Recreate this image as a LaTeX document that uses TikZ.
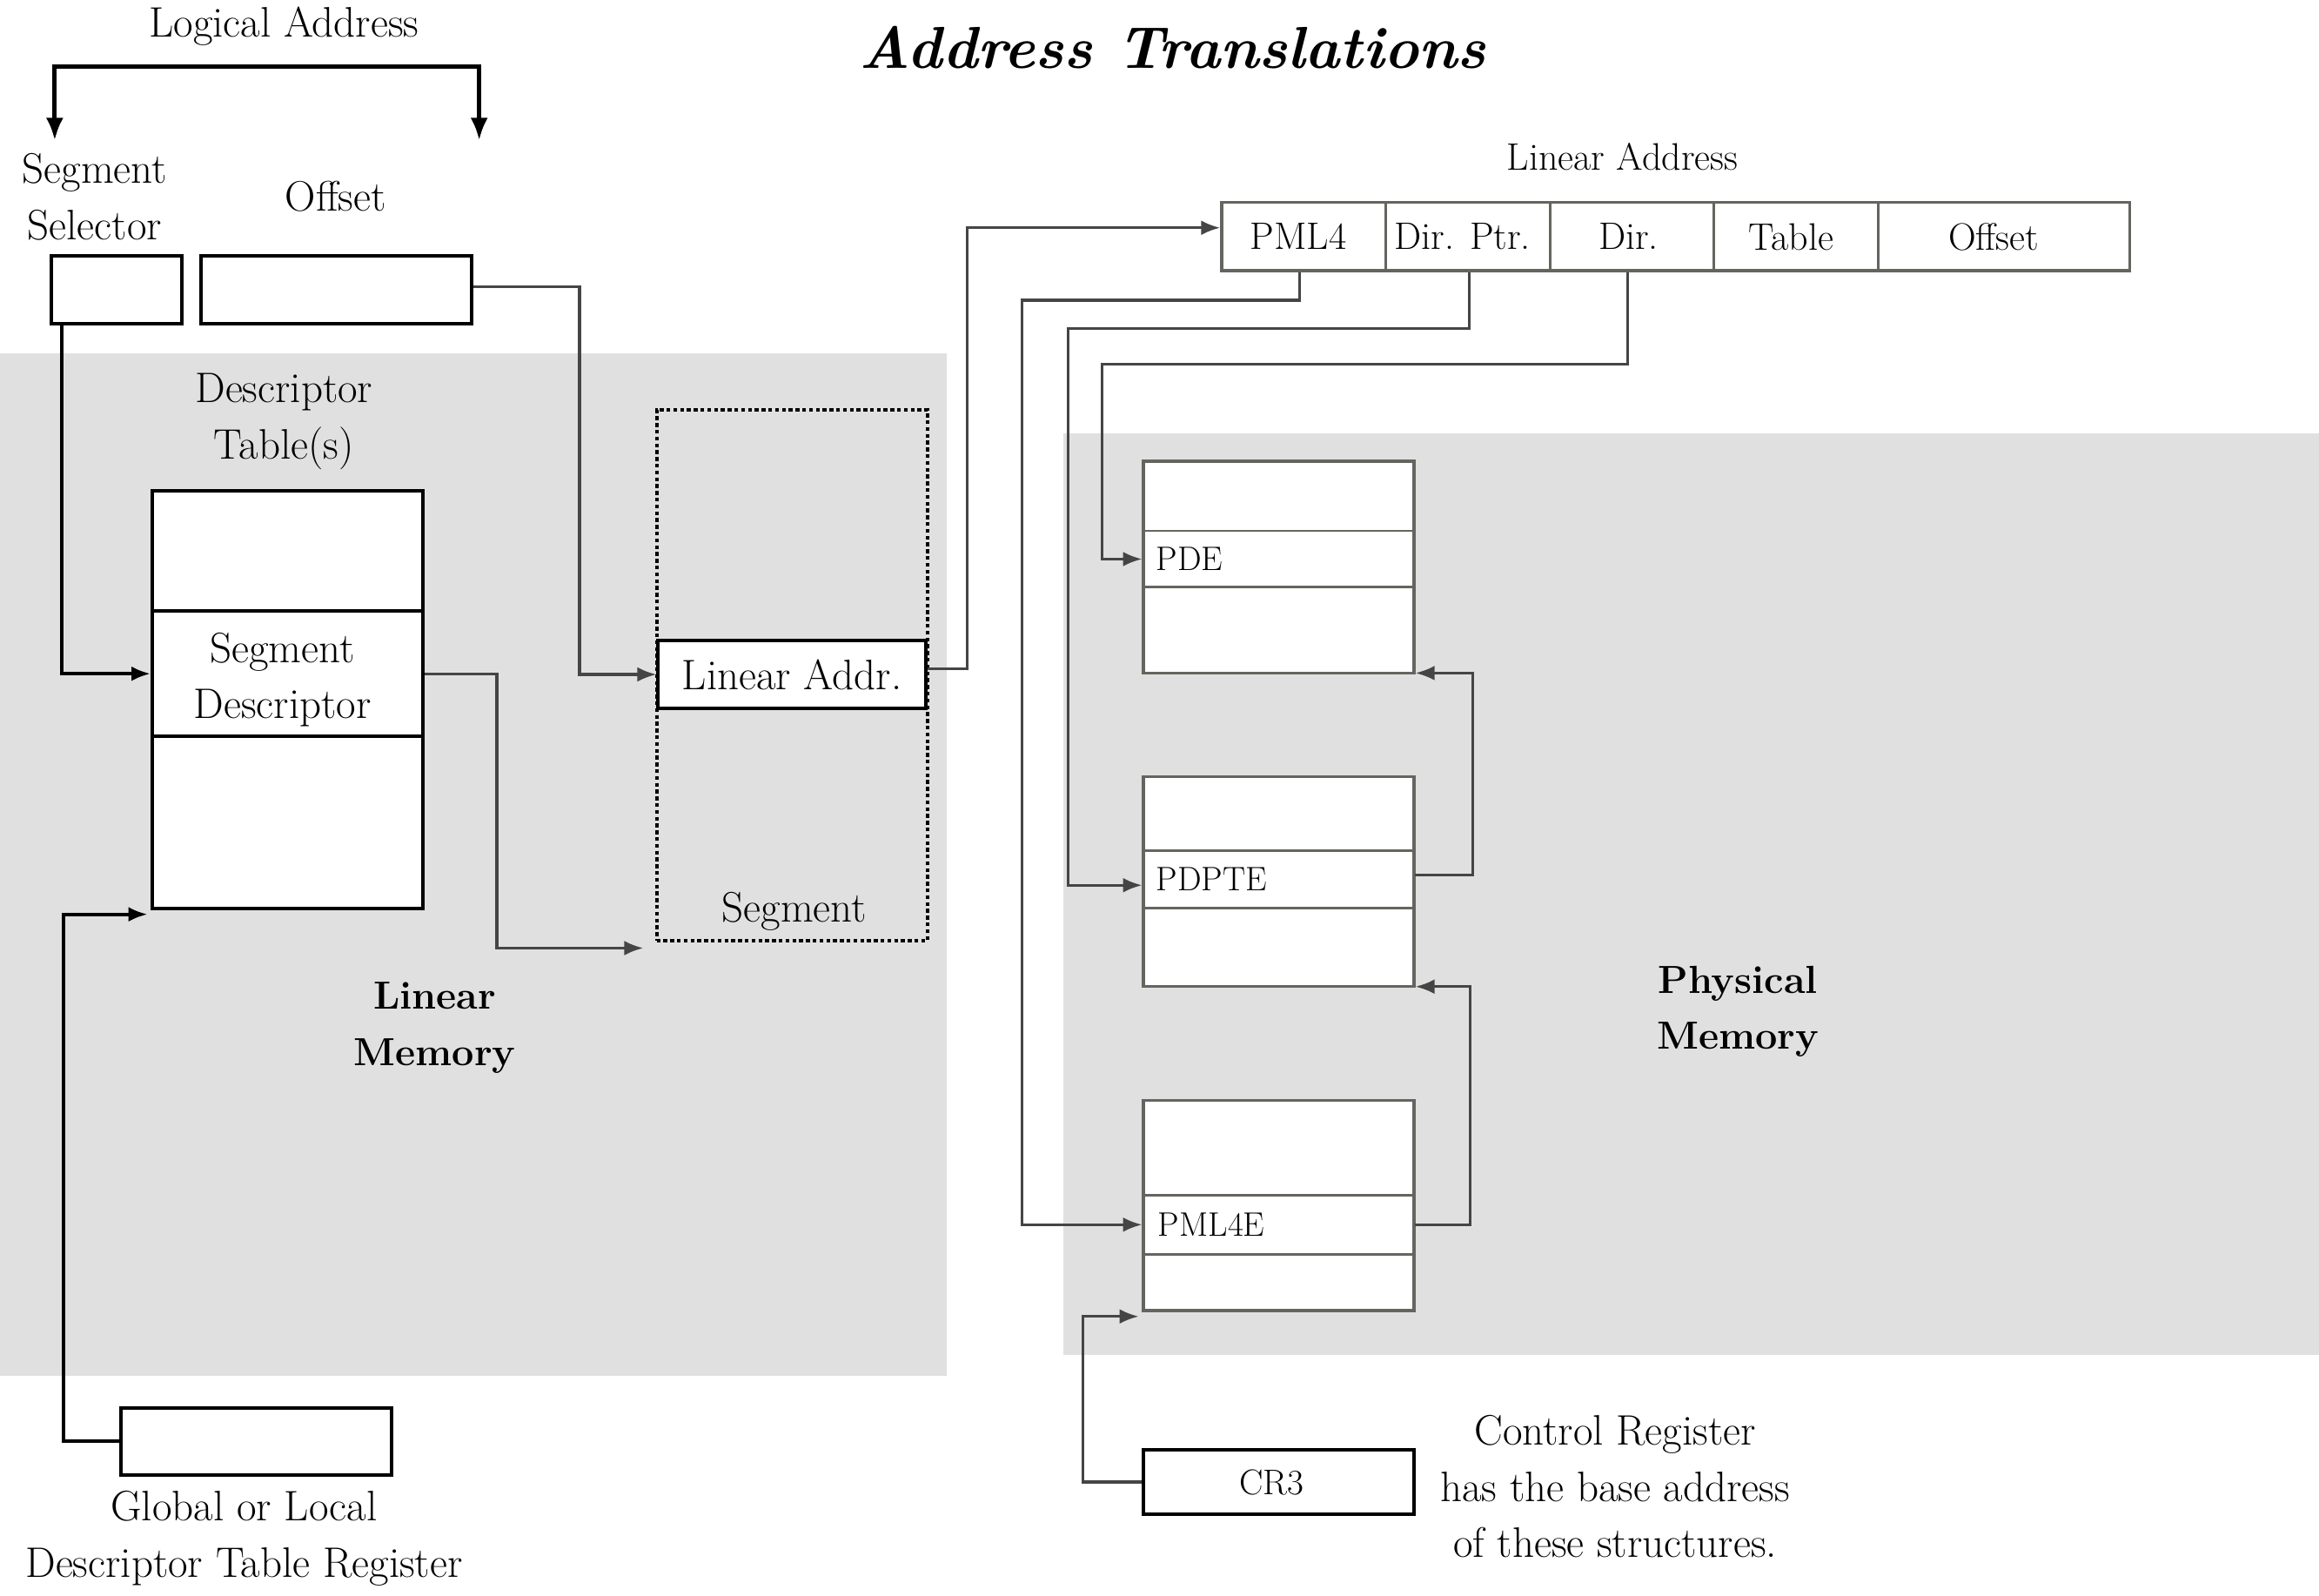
\documentclass[tikz,border=0pt]{standalone}
\usetikzlibrary{arrows.meta,fit,calc}
\definecolor{bggray}{HTML}{E0E0E0}
\definecolor{conngray}{HTML}{454545}
\definecolor{boxgray}{HTML}{65645F}
\begin{document}
\begin{tikzpicture}[x=0.85pt,y=-0.85pt,
  lbl/.style={font=\fontsize{24.5}{32.3}\selectfont, align=center, inner sep=0pt},
  smlbl/.style={font=\fontsize{22}{26}\selectfont, inner sep=0pt},
  rowlbl/.style={font=\fontsize{19.5}{23}\selectfont, inner sep=0pt, anchor=west},
  boldlbl/.style={font=\fontsize{22.5}{32.3}\selectfont\bfseries, align=center, inner sep=0pt},
  blkbox/.style={draw=black, line width=2pt, fill=white, inner sep=0pt},
  blkrow/.style={draw=black, line width=2pt, inner sep=0pt},
  graybox/.style={draw=boxgray, line width=1.8pt, fill=white, inner sep=0pt},
  grayrow/.style={draw=boxgray, line width=1.3pt, inner sep=0pt},
  cellbox/.style={draw=boxgray, line width=1.6pt, fill=white, inner sep=0pt},
  conn/.style={draw=conngray, line width=1.6pt, -{Latex[length=11pt,width=8.5pt]}},
  blkconn/.style={draw=black, line width=2pt, -{Latex[length=11pt,width=8.5pt]}},
  brk/.style={draw=black, line width=2.5pt, {Latex[length=13pt,width=10pt]}-{Latex[length=13pt,width=10pt]}},
]
\useasboundingbox (0,0) rectangle (1568,1079);
% background regions
\fill[bggray] (0,239) rectangle (640,930);
\fill[bggray] (719,293) rectangle (1568,916);

% title
\node[font=\fontsize{34}{38}\selectfont\bfseries\itshape, inner sep=0pt] (title) at (793,32) {Address Translations};

% logical address
\node[lbl] (logaddr) at (192,18) {Logical Address};
\coordinate (brL) at (37,95);
\coordinate (brR) at (324,95);
\draw[brk] (brL) |- ($(brR)+(0,-50)$) -- (brR);
\node[lbl] (segsel) at (64,133) {Segment\\Selector};
\node[lbl] (offlbl) at (227,133) {Offset};
\node[blkbox, fit={(35,173) (123,219)}] (ssbox) {};
\node[blkbox, fit={(136,173) (319,219)}] (offbox) {};

% descriptor table
\node[lbl] (dtlbl) at (192,285) {Descriptor\\Table(s)};
\node[blkbox, fit={(103,332) (286,614)}] (dt) {};
\node[blkrow, fit={(103,413) (286,498)}] (segdesc) {};
\node[lbl] (segdesctxt) at ([xshift=-3pt,yshift=-3.5pt]segdesc.center) {Segment\\Descriptor};

% segment (dotted) and linear addr
\node[draw=black, line width=2pt, dash pattern=on 2.2pt off 1.7pt, inner sep=0pt, fit={(444,277) (627,636)}] (segbox) {};
\node[lbl] (seglbl) at (537,616) {Segment};
\node[blkbox, fit={(445,433) (626,479)}] (linaddr) {};
\node[lbl] (linaddrtxt) at (linaddr.center) {Linear Addr.};
\coordinate (segend) at (435,641);

% labels
\node[boldlbl] (linlbl) at (294,695) {Linear\\Memory};
\node[boldlbl] (physlbl) at (1175,684) {Physical\\Memory};

% GDTR
\node[blkbox, fit={(82,952) (265,997)}] (gdtr) {};
\node[lbl] (gdtrlbl) at (165,1040) {Global or Local\\Descriptor Table Register};

% linear address bar
\node[smlbl] (linaddrlbl) at (1097,106) {Linear Address};
\node[cellbox, fit={(826,137) (937,183)}] (pml4) {};
\node[cellbox, fit={(937,137) (1048,183)}] (dirptr) {};
\node[cellbox, fit={(1048,137) (1159,183)}] (dir) {};
\node[cellbox, fit={(1159,137) (1270,183)}] (tbl) {};
\node[cellbox, fit={(1270,137) (1440,183)}] (loff) {};
\node[smlbl] (pml4txt) at ([xshift=-3pt]pml4.center) {PML4};
\node[smlbl] (dirptrtxt) at ([xshift=-3pt]dirptr.center) {Dir. Ptr.};
\node[smlbl] (dirtxt) at ([xshift=-2pt]dir.center) {Dir.};
\node[smlbl] (tbltxt) at ([xshift=-3pt]tbl.center) {Table};
\node[smlbl] (lofftxt) at ([xshift=-6pt]loff.center) {Offset};

% paging tables
\node[graybox, fit={(773,312) (956,455)}] (pdet) {};
\node[grayrow, fit={(773,359) (956,397)}] (pde) {};
\node[rowlbl] (pdelbl) at ([xshift=8pt]pde.west) {PDE};

\node[graybox, fit={(773,525) (956,667)}] (pdptet) {};
\node[grayrow, fit={(773,575) (956,614)}] (pdpte) {};
\node[rowlbl] (pdptelbl) at ([xshift=8pt]pdpte.west) {PDPTE};

\node[graybox, fit={(773,744) (956,886)}] (pml4et) {};
\node[grayrow, fit={(773,808) (956,848)}] (pml4e) {};
\node[rowlbl] (pml4elbl) at ([xshift=9pt]pml4e.west) {PML4E};

% CR3
\node[blkbox, fit={(773,980) (956,1024)}] (cr3) {};
\node[font=\fontsize{20.5}{24}\selectfont, inner sep=0pt] (cr3txt) at ([xshift=-4pt]cr3.center) {CR3};
\node[lbl] (crtxt) at (1092,1005) {Control Register\\has the base address\\of these structures.};

% turn points
\coordinate (t1) at (691,203);
\coordinate (t2) at (722,222);
\coordinate (t3) at (745,246);
\coordinate (t4) at (996,520);
\coordinate (t5) at (994,740);
\coordinate (t6) at (732,950);
\coordinate (t7) at (43,800);

% connectors
\draw[blkconn] ($(ssbox.south west)+(8,0)$) |- (segdesc.west);
\draw[conn] ($(offbox.east)+(0,-2)$) -| ($(linaddr.west)+(-52,0)$) -- (linaddr.west);
\draw[conn] (segdesc.east) -| ($(segend)+(-99,0)$) -- (segend);
\draw[conn] ($(linaddr.east)+(0,-4)$) -| ($(pml4.west)+(-171,-6)$) -- ($(pml4.west)+(0,-6)$);
\draw[conn] ($(pml4.south)+(-3,0)$) |- (t1) |- (pml4e.west);
\draw[conn] ($(dirptr.south)+(1,0)$) |- (t2) |- ($(pdpte.west)+(0,4)$);
\draw[conn] ($(dir.south)+(-3,0)$) |- (t3) |- (pde.west);
\draw[conn] ($(pdpte.east)+(0,-3)$) -| (t4) |- ($(pdet.south east)+(0,-1)$);
\draw[conn] (pml4e.east) -| (t5) |- ($(pdptet.south east)+(0,-1)$);
\draw[conn] (cr3.west) -| (t6) |- ($(pml4et.south west)+(-2,3)$);
\draw[blkconn] (gdtr.west) -| (t7) |- ($(dt.south west)+(-2,3)$);
\end{tikzpicture}
\end{document}
